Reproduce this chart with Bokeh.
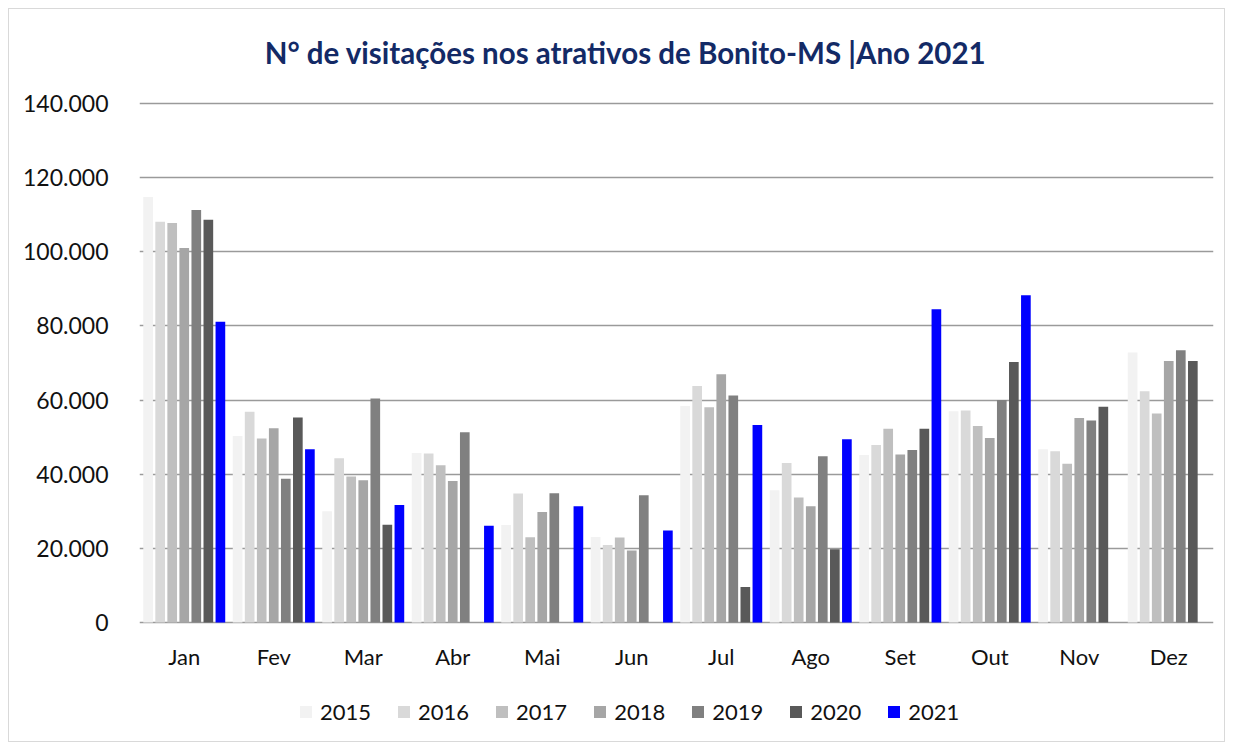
import math
from bokeh.plotting import figure
from bokeh.models import (ColumnDataSource, FactorRange, Range1d, FixedTicker,
                          CustomJSTickFormatter, Legend, LegendItem, Label)
from bokeh.core.properties import value
from bokeh.transform import dodge
from bokeh.embed import file_html
from bokeh.resources import INLINE

nan = float("nan")

months = ["Jan", "Fev", "Mar", "Abr", "Mai", "Jun", "Jul", "Ago", "Set", "Out", "Nov", "Dez"]
years = ["2015", "2016", "2017", "2018", "2019", "2020", "2021"]
v2015 = [114800, 50300, 30000, 45750, 26300, 23050, 58400, 35700, 45200, 57000, 46750, 72800]
v2016 = [108100, 56850, 44300, 45600, 34800, 20900, 63800, 43050, 47850, 57200, 46200, 62350]
v2017 = [107750, 49650, 39400, 42450, 23000, 22900, 58050, 33700, 52250, 53000, 42800, 56400]
v2018 = [101000, 52400, 38400, 38200, 29800, 19450, 66950, 31350, 45350, 49750, 55150, 70550]
v2019 = [111300, 38750, 60450, 51350, 34850, 34350, 61250, 44850, 46550, 60000, 54500, 73450]
v2020 = [108650, 55300, 26400, 0, 0, 0, 9550, 19750, 52250, 70300, 58200, 70550]
v2021 = [81100, 46750, 31700, 26100, 31350, 24850, 53250, 49450, 84500, 88300, nan, nan]
y_ticks = [0, 20000, 40000, 60000, 80000, 100000, 120000, 140000]
TITLE = "N° de visitações nos atrativos de Bonito-MS |Ano 2021"

colors = ["#f2f2f2", "#d9d9d9", "#bfbfbf", "#a6a6a6", "#808080", "#595959", "#0000ff"]
series = [v2015, v2016, v2017, v2018, v2019, v2020, v2021]

data = {"month": months}
for yr, vals in zip(years, series):
    data["y" + yr] = vals
source = ColumnDataSource(data)

FONT = "Lato"

# layout in page pixels; canvas starts at OFF (8px margin + 1px border)
OFF = 9
W, H = 1217, 734
frame_left, frame_right = 139 - OFF, 1213 - OFF
frame_top, frame_bottom = 0, 735 - OFF
zero_px, top_px = 622 - OFF, 103 - OFF           # rows of 0 and 140.000
per_px = 140000 / (zero_px - top_px)
y_end = 140000 + (top_px - frame_top) * per_px
y_start = -(frame_bottom - zero_px) * per_px

p = figure(x_range=FactorRange(*months), y_range=Range1d(y_start, y_end),
           width=W, height=H, output_backend="svg", toolbar_location=None,
           min_border_left=frame_left, min_border_right=W - frame_right,
           min_border_top=frame_top, min_border_bottom=H - frame_bottom)
p.styles = {"margin-left": "8px", "margin-top": "8px", "border": "1px solid #d9d9d9"}
p.outline_line_color = None
p.background_fill_color = "white"
p.border_fill_color = "white"

pitch = 0.1346
bw = 0.108
items = []
for i, (yr, col) in enumerate(zip(years, colors)):
    r = p.vbar(x=dodge("month", (i - 3) * pitch, range=p.x_range), top="y" + yr,
               width=bw, source=source, fill_color=col, line_color=None)
    items.append(LegendItem(label=yr, renderers=[r]))

p.xgrid.grid_line_color = None
p.ygrid.grid_line_color = "#9a9a9a"
p.ygrid.grid_line_width = 1.4
p.ygrid.level = "underlay"
p.yaxis.ticker = FixedTicker(ticks=y_ticks)
p.yaxis.formatter = CustomJSTickFormatter(code="""
return Math.round(tick).toString().replace(/\\B(?=(\\d{3})+(?!\\d))/g, ".");
""")
p.yaxis.axis_line_color = None
p.yaxis.major_tick_line_color = None
p.yaxis.minor_tick_line_color = None
p.yaxis.major_label_standoff = 25
p.yaxis.major_label_text_font = FONT
p.yaxis.major_label_text_font_size = "23px"
p.yaxis.major_label_text_color = "#111111"
p.xaxis.visible = False

# month labels under the bars
label_y = -((656 - OFF) - zero_px) * per_px
p.text(x=months, y=[label_y] * len(months), text=months,
       text_font=value(FONT), text_font_size="22px", text_color="#111111",
       text_align="center", text_baseline="middle")

# title
title_x = ((625 - OFF) - frame_left) / ((frame_right - frame_left) / len(months))
title_y = 140000 + (top_px - (52 - OFF)) * per_px
p.add_layout(Label(x=title_x, y=title_y, text=TITLE, text_font=FONT,
                   text_font_style="bold", text_font_size="29.5px",
                   text_color="#132a66", text_align="center",
                   text_baseline="middle"))

legend = Legend(items=items, orientation="horizontal", location=(159, 10),
                glyph_width=15, glyph_height=15, label_standoff=7, spacing=25,
                label_text_font=FONT, label_text_font_size="22px",
                label_text_color="#111111", border_line_color=None,
                background_fill_alpha=0, padding=10, margin=0)
p.add_layout(legend, "center")

open("out.html", "w").write(file_html(p, INLINE))
